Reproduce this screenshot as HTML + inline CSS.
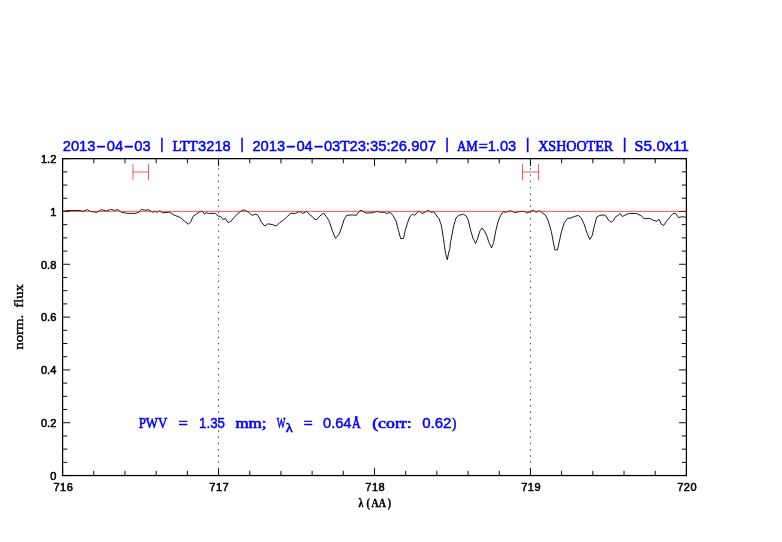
<!DOCTYPE html>
<html><head><meta charset="utf-8"><title>plot</title>
<style>
html,body{margin:0;padding:0;background:#fff;}
svg{display:block;transform:translateZ(0);will-change:transform;}
.s{font-family:"Liberation Sans",sans-serif;}
.r{font-family:"Liberation Serif",serif;}
.tk{font-size:11px;fill:#000;stroke:#000;stroke-width:0.55px;}
.ti{fill:#00f;stroke:#00f;stroke-width:0.45px;}
.s.ti{font-size:14.3px;}
.r.ti{font-size:14.5px;stroke-width:0.6px;}
.k{fill:#000;stroke:#000;stroke-width:0.4px;}
</style></head>
<body>
<svg width="782" height="542" viewBox="0 0 782 542">
<rect width="782" height="542" fill="#fff"/>
<path d="M62.60,475.55v-7.4M62.60,158.65v7.4M93.79,475.55v-4.7M93.79,158.65v4.7M124.98,475.55v-4.7M124.98,158.65v4.7M156.17,475.55v-4.7M156.17,158.65v4.7M187.36,475.55v-4.7M187.36,158.65v4.7M218.55,475.55v-7.4M218.55,158.65v7.4M249.74,475.55v-4.7M249.74,158.65v4.7M280.93,475.55v-4.7M280.93,158.65v4.7M312.12,475.55v-4.7M312.12,158.65v4.7M343.31,475.55v-4.7M343.31,158.65v4.7M374.50,475.55v-7.4M374.50,158.65v7.4M405.69,475.55v-4.7M405.69,158.65v4.7M436.88,475.55v-4.7M436.88,158.65v4.7M468.07,475.55v-4.7M468.07,158.65v4.7M499.26,475.55v-4.7M499.26,158.65v4.7M530.45,475.55v-7.4M530.45,158.65v7.4M561.64,475.55v-4.7M561.64,158.65v4.7M592.83,475.55v-4.7M592.83,158.65v4.7M624.02,475.55v-4.7M624.02,158.65v4.7M655.21,475.55v-4.7M655.21,158.65v4.7M686.40,475.55v-7.4M686.40,158.65v7.4M62.6,475.55h7.4M686.4,475.55h-7.4M62.6,462.35h4.7M686.4,462.35h-4.7M62.6,449.14h4.7M686.4,449.14h-4.7M62.6,435.94h4.7M686.4,435.94h-4.7M62.6,422.73h7.4M686.4,422.73h-7.4M62.6,409.53h4.7M686.4,409.53h-4.7M62.6,396.33h4.7M686.4,396.33h-4.7M62.6,383.12h4.7M686.4,383.12h-4.7M62.6,369.92h7.4M686.4,369.92h-7.4M62.6,356.71h4.7M686.4,356.71h-4.7M62.6,343.51h4.7M686.4,343.51h-4.7M62.6,330.30h4.7M686.4,330.30h-4.7M62.6,317.10h7.4M686.4,317.10h-7.4M62.6,303.90h4.7M686.4,303.90h-4.7M62.6,290.69h4.7M686.4,290.69h-4.7M62.6,277.49h4.7M686.4,277.49h-4.7M62.6,264.28h7.4M686.4,264.28h-7.4M62.6,251.08h4.7M686.4,251.08h-4.7M62.6,237.88h4.7M686.4,237.88h-4.7M62.6,224.67h4.7M686.4,224.67h-4.7M62.6,211.47h7.4M686.4,211.47h-7.4M62.6,198.26h4.7M686.4,198.26h-4.7M62.6,185.06h4.7M686.4,185.06h-4.7M62.6,171.85h4.7M686.4,171.85h-4.7M62.6,158.65h7.4M686.4,158.65h-7.4" stroke="#000" stroke-width="0.95" fill="none"/>
<line x1="218.55" y1="475.55" x2="218.55" y2="158.65" stroke="#000" stroke-width="1" stroke-opacity="0.75" stroke-dasharray="1.4 4.84" stroke-dashoffset="-0.17"/>
<line x1="530.45" y1="475.55" x2="530.45" y2="158.65" stroke="#000" stroke-width="1" stroke-opacity="0.75" stroke-dasharray="1.4 4.84" stroke-dashoffset="-0.17"/>
<polyline fill="none" stroke="#000" stroke-width="0.9" stroke-linejoin="round" points="62.5,211.3 63.8,211.1 69.2,210.4 80,210.6 83,211.3 87.3,209.6 90.7,211.6 96.8,212.3 101.4,209.7 106.8,211.1 110.6,209.4 114.5,210.3 118,209.7 121.4,212.2 127.5,213.4 135.2,213.4 139,212.2 141.6,209.4 145.2,210.3 148.2,209.6 152.8,212.3 155.1,211.3 157.4,212.3 159.7,210.7 162.5,212.8 169.7,212.2 173.8,214.9 180.7,217.7 185.3,221.9 188.4,224.2 190.7,221.9 193,216.5 196.9,213.7 200.7,211.3 202.7,211.6 204.5,214.2 206.4,212.6 208.4,213.4 215.3,213.4 218.3,216 220.6,216.5 223.4,219.9 225.2,218.3 228,222.6 230.6,221.4 234.4,217.2 238.3,213.1 242.1,210.3 244.4,210 248.3,212.2 252.1,215.3 255.9,214.2 258.2,215.7 261.3,221.9 264.8,226.1 267.9,223.8 272,224.5 276.2,226.1 279.7,222.6 283.8,219.9 286.9,216.8 290.7,213.4 295.3,213.4 299.9,211.4 302.7,213.4 306.9,211.3 309.2,214.2 311.9,216.2 314.5,219.2 316.8,219.6 319.6,216.2 323.7,213.1 326,216.2 328.8,220.3 332.2,230.3 335.5,238.4 339.1,234.1 341.4,228 344.4,218.8 346.7,215.4 352.1,214.9 356.4,215.3 359,211.6 361,210.3 365.9,213.1 372.1,212.8 377,211.3 379.7,212.2 384.3,212.2 386.6,213.4 390.5,212.6 393.1,215.7 396.1,221.1 398.4,230.3 400.7,238.7 403.5,238.4 405.3,230.3 407.6,222.6 409.9,216.5 412.7,214.2 414.6,215.4 417.3,212.3 419.5,211.4 421.9,213.4 424.5,212.6 428.4,210.3 431.1,212.3 433.7,211.9 436,214.9 439.1,218.8 441.4,225.7 443.6,239.5 444.5,246.3 445.5,253 447.3,259.8 448.6,253 449.9,248.4 450.4,242.7 451.4,238 453.7,225.7 456,218 458.7,215.4 463.3,214.2 466,215.7 468.3,220.3 470.6,230.3 473.2,238.7 475.6,243.5 477.8,238 479.8,231.1 482.1,228 484.8,231.5 487,236.4 489,242.6 491.6,247.9 493.6,242.6 495.9,230.3 498.2,221.1 500.5,215.7 503.2,211.6 505.6,212.3 510.4,210.7 514.6,212.6 521.5,211.3 524.6,211.6 526.9,213.1 530.4,211.3 533.5,210.3 536.1,212.3 538.7,210.7 541.4,212.2 545.3,214.9 548.3,221.1 551.4,231.8 553.7,244.1 554.9,249.9 557.5,249.9 559.1,242.6 561.4,231.8 564.4,222.6 567.5,218.5 570.6,218 574.4,216.5 578.3,215.4 581.3,218 584.1,224.2 587.2,233.4 589.8,239.5 592.1,235.7 594.4,225.7 596.7,217.2 599.7,215.4 603.8,214.9 605.8,215.8 608.3,219.9 611.3,222.2 613.4,220.6 615.6,216.7 617.9,215.5 620.1,213.5 622.4,216.5 625.6,214.8 629.4,213.5 636.4,213.5 640.9,215.5 644.1,218.7 649.9,218.4 653.1,220.3 656.9,221.2 659.1,219.3 661.4,224.4 663.7,225.4 666.5,221.2 670.3,216.7 673.1,213.5 675.4,213.2 678.6,217.6 681.8,216.7 686.5,217.4"/>
<g stroke="#f00" stroke-opacity="0.66" stroke-width="1" fill="none">
<line x1="62.6" y1="211.4" x2="686.4" y2="211.4"/>
<path d="M133.0,164v16M148.5,164v16M133.0,172H148.5"/>
<path d="M522.5,164v16M538.5,164v16M522.5,172H538.5"/>
</g>
<rect x="62.6" y="158.65" width="623.8" height="316.9" fill="none" stroke="#000" stroke-width="1.25"/>
<text class="s tk" x="63.1" y="490.6" text-anchor="middle" textLength="19.4" lengthAdjust="spacing">716</text>
<text class="s tk" x="219.0" y="490.6" text-anchor="middle" textLength="19.4" lengthAdjust="spacing">717</text>
<text class="s tk" x="375.0" y="490.6" text-anchor="middle" textLength="19.4" lengthAdjust="spacing">718</text>
<text class="s tk" x="530.9" y="490.6" text-anchor="middle" textLength="19.4" lengthAdjust="spacing">719</text>
<text class="s tk" x="686.9" y="490.6" text-anchor="middle" textLength="19.4" lengthAdjust="spacing">720</text>
<text class="s tk" x="56.3" y="479.8" text-anchor="end">0</text>
<text class="s tk" x="56.3" y="426.9" text-anchor="end">0.2</text>
<text class="s tk" x="56.3" y="374.1" text-anchor="end">0.4</text>
<text class="s tk" x="56.3" y="321.3" text-anchor="end">0.6</text>
<text class="s tk" x="56.3" y="268.5" text-anchor="end">0.8</text>
<text class="s tk" x="56.3" y="215.7" text-anchor="end">1</text>
<text class="s tk" x="56.3" y="162.9" text-anchor="end">1.2</text>
<text class="r k" font-weight="bold" font-size="11.8" transform="translate(0,507) scale(0.84,1)" x="426.90 436.19 442.14 450.83 461.55" y="0">λ(AA)</text>
<text class="r k" font-size="12.5" transform="translate(23.2,349.6) rotate(-90)" textLength="65.5" lengthAdjust="spacingAndGlyphs" style="word-spacing:3px">norm. flux</text>
<text class="s ti" x="62.7" y="150.6" textLength="32.8" lengthAdjust="spacingAndGlyphs">2013</text>
<text class="s ti" x="96.0" y="150.6" textLength="10.0" lengthAdjust="spacingAndGlyphs">-</text>
<text class="s ti" x="106.7" y="150.6" textLength="16.4" lengthAdjust="spacingAndGlyphs">04</text>
<text class="s ti" x="123.7" y="150.6" textLength="10.0" lengthAdjust="spacingAndGlyphs">-</text>
<text class="s ti" x="134.2" y="150.6" textLength="16.4" lengthAdjust="spacingAndGlyphs">03</text>
<text class="s ti" style="font-size:14.4px" x="161.9" y="149.4" text-anchor="middle">|</text>
<text class="r ti" x="172.4" y="150.6" textLength="25.3" lengthAdjust="spacingAndGlyphs">LTT</text>
<text class="s ti" x="198.0" y="150.6" textLength="32.8" lengthAdjust="spacingAndGlyphs">3218</text>
<text class="s ti" style="font-size:14.4px" x="242.0" y="149.4" text-anchor="middle">|</text>
<text class="s ti" x="252.4" y="150.6" textLength="32.8" lengthAdjust="spacingAndGlyphs">2013</text>
<text class="s ti" x="285.7" y="150.6" textLength="10.0" lengthAdjust="spacingAndGlyphs">-</text>
<text class="s ti" x="296.4" y="150.6" textLength="16.4" lengthAdjust="spacingAndGlyphs">04</text>
<text class="s ti" x="313.4" y="150.6" textLength="10.0" lengthAdjust="spacingAndGlyphs">-</text>
<text class="s ti" x="323.9" y="150.6" textLength="16.4" lengthAdjust="spacingAndGlyphs">03</text>
<text class="r ti" x="340.2" y="150.6" textLength="9.3" lengthAdjust="spacingAndGlyphs">T</text>
<text class="s ti" x="349.4" y="150.6" textLength="86.5" lengthAdjust="spacingAndGlyphs">23:35:26.907</text>
<text class="s ti" style="font-size:14.4px" x="447.0" y="149.4" text-anchor="middle">|</text>
<text class="r ti" x="457.0" y="150.6" textLength="20.8" lengthAdjust="spacingAndGlyphs">AM</text>
<text class="r ti" x="478.8" y="150.6" textLength="9.1" lengthAdjust="spacingAndGlyphs">=</text>
<text class="s ti" x="487.7" y="150.6" textLength="28.6" lengthAdjust="spacingAndGlyphs">1.03</text>
<text class="s ti" style="font-size:14.4px" x="527.5" y="149.4" text-anchor="middle">|</text>
<text class="r ti" x="538.2" y="150.6" textLength="74.9" lengthAdjust="spacingAndGlyphs">XSHOOTER</text>
<text class="s ti" style="font-size:14.4px" x="624.5" y="149.4" text-anchor="middle">|</text>
<text class="r ti" x="634.5" y="150.6" textLength="8.9" lengthAdjust="spacingAndGlyphs">S</text>
<text class="s ti" x="643.5" y="150.6" textLength="45.3" lengthAdjust="spacingAndGlyphs">5.0x11</text>
<text class="r ti" x="138.7" y="427.8" textLength="28.7" lengthAdjust="spacingAndGlyphs">PWV</text>
<text class="r ti" x="178.6" y="427.8" textLength="9.3" lengthAdjust="spacingAndGlyphs">=</text>
<text class="s ti" x="199.1" y="427.8" textLength="25.9" lengthAdjust="spacingAndGlyphs">1.35</text>
<text class="r ti" x="235.4" y="427.8" textLength="31.1" lengthAdjust="spacingAndGlyphs">mm;</text>
<text class="r ti" x="276.7" y="427.8" textLength="8.7" lengthAdjust="spacingAndGlyphs">W</text>
<text class="r ti" x="303.8" y="427.8" textLength="8.9" lengthAdjust="spacingAndGlyphs">=</text>
<text class="s ti" x="323" y="427.8" textLength="28.5" lengthAdjust="spacingAndGlyphs">0.64</text>
<text class="r ti" x="352" y="427.8" textLength="8.7" lengthAdjust="spacingAndGlyphs">Å</text>
<text class="r ti" x="372.2" y="427.8" textLength="39.5" lengthAdjust="spacingAndGlyphs">(corr:</text>
<text class="s ti" x="422.2" y="427.8" textLength="29.3" lengthAdjust="spacingAndGlyphs">0.62</text>
<text class="r ti" x="452.2" y="427.8" textLength="4.1" lengthAdjust="spacingAndGlyphs">)</text>
<text class="r ti" style="font-size:12.5px" x="285.8" y="431.6" textLength="7" lengthAdjust="spacingAndGlyphs">λ</text>
</svg>
</body></html>
